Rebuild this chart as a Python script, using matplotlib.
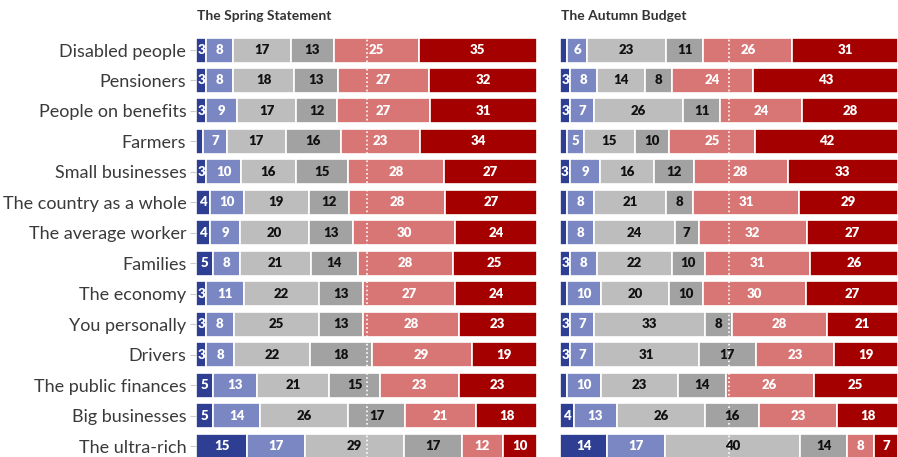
import numpy as np
import matplotlib
matplotlib.use("Agg")
import matplotlib.pyplot as plt

# Survey groups, top to bottom
groups = ["Disabled people", "Pensioners", "People on benefits", "Farmers",
          "Small businesses", "The country as a whole", "The average worker",
          "Families", "The economy", "You personally", "Drivers",
          "The public finances", "Big businesses", "The ultra-rich"]

# Six answer bands, from most positive (dark blue) to most negative (dark red)
spring_1 = [3, 3, 3, 2, 3, 4, 4, 5, 3, 3, 3, 5, 5, 15]
spring_2 = [8, 8, 9, 7, 10, 10, 9, 8, 11, 8, 8, 13, 14, 17]
spring_3 = [17, 18, 17, 17, 16, 19, 20, 21, 22, 25, 22, 21, 26, 29]
spring_4 = [13, 13, 12, 16, 15, 12, 13, 14, 13, 13, 18, 15, 17, 17]
spring_5 = [25, 27, 27, 23, 28, 28, 30, 28, 27, 28, 29, 23, 21, 12]
spring_6 = [35, 32, 31, 34, 27, 27, 24, 25, 24, 23, 19, 23, 18, 10]

autumn_1 = [2, 3, 3, 2, 3, 2, 2, 3, 2, 3, 3, 2, 4, 14]
autumn_2 = [6, 8, 7, 5, 9, 8, 8, 8, 10, 7, 7, 10, 13, 17]
autumn_3 = [23, 14, 26, 15, 16, 21, 24, 22, 20, 33, 31, 23, 26, 40]
autumn_4 = [11, 8, 11, 10, 12, 8, 7, 10, 10, 8, 17, 14, 16, 14]
autumn_5 = [26, 24, 24, 25, 28, 31, 32, 31, 30, 28, 23, 26, 23, 8]
autumn_6 = [31, 43, 28, 42, 33, 29, 27, 26, 27, 21, 19, 25, 18, 7]

colors = ["#2e3f93", "#7b87c2", "#bdbdbd", "#a2a2a2", "#d87676", "#a50000"]
text_colors = ["white", "white", "#111111", "#111111", "white", "white"]

plt.rcParams["font.family"] = ["Lato", "DejaVu Sans"]

fig = plt.figure(figsize=(8.98, 4.57), dpi=100)
W, H = 898, 457
row_px = 30.46
ax_top = 34.8
ax_h = row_px * len(groups)

panels = [
    ("The Spring Statement", [spring_1, spring_2, spring_3, spring_4, spring_5, spring_6], 196, 341),
    ("The Autumn Budget", [autumn_1, autumn_2, autumn_3, autumn_4, autumn_5, autumn_6], 560, 338),
]

y = np.arange(len(groups))
for k, (title, series, left_px, width_px) in enumerate(panels):
    ax = fig.add_axes([left_px / W, 1 - (ax_top + ax_h) / H, width_px / W, ax_h / H])
    data = np.array(series, dtype=float)
    pct = data / data.sum(axis=0) * 100
    left = np.zeros(len(groups))
    for j in range(6):
        ax.barh(y, pct[j], left=left, height=0.82, color=colors[j],
                edgecolor="white", linewidth=1.2)
        for i in range(len(groups)):
            if data[j, i] >= 3:
                ax.text(left[i] + pct[j, i] / 2, y[i], f"{int(data[j, i])}",
                        ha="center", va="center", fontsize=9.5, fontweight="heavy",
                        color=text_colors[j])
        left += pct[j]
    ax.axvline(50, color="white", linestyle=(0, (1, 1.5)), linewidth=1.2)
    ax.set_xlim(0, 100)
    ax.set_ylim(len(groups) - 0.5, -0.5)
    for s in ax.spines.values():
        s.set_visible(False)
    ax.set_xticks([])
    if k == 0:
        ax.set_yticks(y)
        ax.set_yticklabels(groups, fontsize=13, color="#3a3a3a")
        ax.tick_params(axis="y", length=4, color="#cccccc", pad=3)
    else:
        ax.set_yticks([])
    fig.text(left_px / W + 0.001, 1 - 16 / H, title, fontsize=10, fontweight="bold",
             color="#333333", ha="left", va="center")

fig.savefig("out.png", dpi=100)
